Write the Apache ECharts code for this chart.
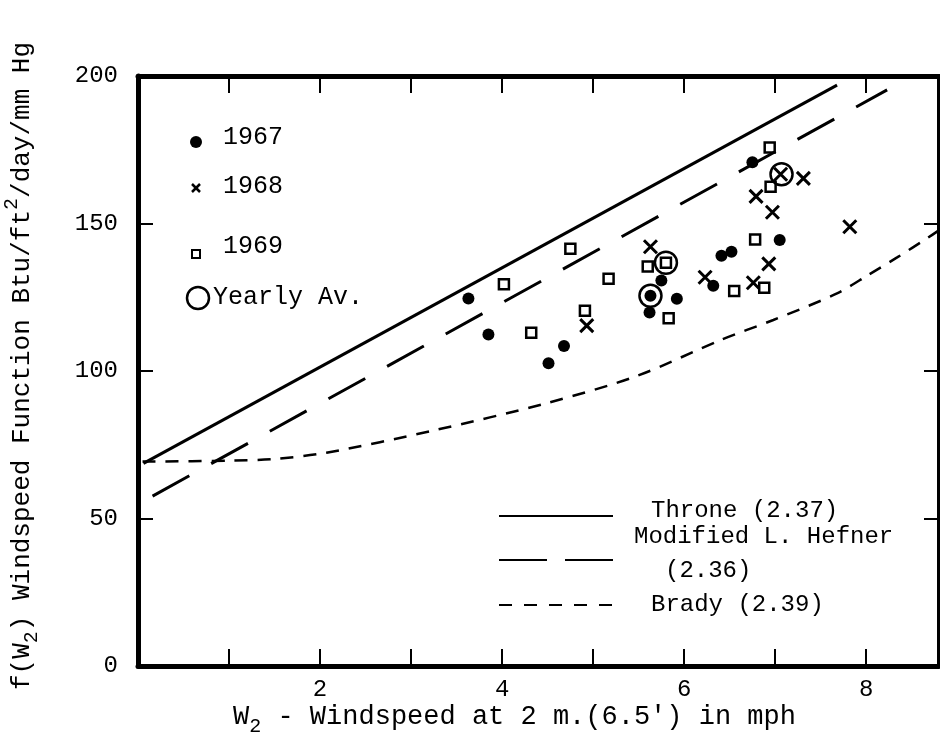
<!DOCTYPE html>
<html><head><meta charset="utf-8">
<script src="https://cdn.jsdelivr.net/npm/echarts@6/dist/echarts.min.js"></script>
<style>html,body{margin:0;padding:0;background:#fff}#c{width:940px;height:744px}</style>
</head><body><div id="c"></div>
<script>
// ---- data ----
const xTickLabels = [2, 4, 6, 8];
const yTickLabels = [0, 50, 100, 150, 200];

const pts1967 = [[3.63,124.6],[3.85,112.4],[4.51,102.6],[4.68,108.5],[5.62,119.8],[5.63,125.5],[5.75,130.7],[5.92,124.5],[6.32,128.9],[6.41,139.1],[6.52,140.4],[6.75,170.8],[7.05,144.4]];
const pts1968 = [[4.93,115.4],[5.63,142.1],[6.23,131.8],[6.76,129.9],[6.93,136.3],[6.79,159.2],[6.97,153.8],[7.06,166.7],[7.31,165.3],[7.82,148.9]];
const pts1969 = [[4.02,129.4],[4.32,113.0],[4.75,141.4],[4.91,120.4],[5.17,131.3],[5.60,135.4],[5.80,136.7],[5.83,117.9],[6.55,127.1],[6.78,144.6],[6.88,128.2],[6.95,162.5],[6.94,175.8]];
const yearlyAv = [[5.63,125.5],[5.80,136.7],[7.07,166.7]];

const throne = [[0.06,68.7],[7.68,196.9]];
const hefner = [[0.16,57.6],[8.23,195.3]];
const brady = [[0.05,69.3],[1.0,69.6],[1.5,70.2],[2.07,72.3],[3.24,79.8],[4.49,89.1],[5.48,98.3],[6.40,110.5],[6.98,117.3],[7.68,126.3],[8.02,132.5],[8.34,138.5],[8.67,145.0],[8.79,147.5]];

const FONT = 'Liberation Mono';
const chart = echarts.init(document.getElementById('c'));
const crossPath = 'path://M0,0L10,10M10,0L0,10';

const axisCommon = {
  axisLine: {show: true, onZero: false, lineStyle: {color: '#000', width: 5}},
  axisTick: {show: true, inside: true, lineStyle: {color: '#000', width: 2}},
  splitLine: {show: false}
};

chart.setOption({
  animation: false,
  backgroundColor: '#fff',
  grid: {left: 138, right: 1, top: 76, bottom: 78, outerBoundsMode: 'none'},
  xAxis: [
    Object.assign({}, axisCommon, {
      type: 'value', position: 'bottom', min: 0, max: 8.8, interval: 1,
      axisTick: {show: true, inside: true, length: 17, lineStyle: {color: '#000', width: 2}},
      axisLabel: {margin: 12, color: '#000', fontFamily: FONT, fontSize: 24,
        formatter: v => xTickLabels.includes(v) ? String(v) : ''},
      name: "{a|W}{sub|2}{a| - Windspeed at 2 m.(6.5') in mph}",
      nameLocation: 'middle', nameGap: 31, nameMoveOverlap: false,
      nameTextStyle: {fontFamily: FONT, color: '#000', padding: [0, 48, 0, 0],
        rich: {a: {fontFamily: FONT, fontSize: 27, color: '#000', lineHeight: 40},
               sub: {fontFamily: FONT, fontSize: 20, color: '#000', lineHeight: 12, verticalAlign: 'bottom'}}}
    }),
    Object.assign({}, axisCommon, {
      type: 'value', position: 'top', min: 0, max: 8.8, interval: 1,
      axisTick: {show: true, inside: true, length: 17, lineStyle: {color: '#000', width: 2}},
      axisLabel: {show: false}
    })
  ],
  yAxis: [
    Object.assign({}, axisCommon, {
      type: 'value', position: 'left', min: 0, max: 200, interval: 50,
      axisTick: {show: true, inside: true, length: 15, lineStyle: {color: '#000', width: 2}},
      axisLabel: {margin: 20, color: '#000', fontFamily: FONT, fontSize: 24,
        formatter: v => yTickLabels.includes(v) ? String(v) : ''},
      name: "{a|f(W}{sub|2}{a|) Windspeed Function Btu/ft}{sup|2}{a|/day/mm Hg}",
      nameLocation: 'middle', nameGap: 96, nameRotate: 90, nameMoveOverlap: false,
      nameTextStyle: {fontFamily: FONT, color: '#000', padding: [0, 0, 0, 10],
        rich: {a: {fontFamily: FONT, fontSize: 26, color: '#000', lineHeight: 40},
               sub: {fontFamily: FONT, fontSize: 20, color: '#000', lineHeight: 12, verticalAlign: 'bottom'},
               sup: {fontFamily: FONT, fontSize: 20, color: '#000', lineHeight: 12, verticalAlign: 'top'}}}
    }),
    Object.assign({}, axisCommon, {
      type: 'value', position: 'right', min: 0, max: 200, interval: 50,
      axisLine: {show: true, onZero: false, lineStyle: {color: '#000', width: 4}},
      axisTick: {show: true, inside: true, length: 15, lineStyle: {color: '#000', width: 2}},
      axisLabel: {show: false}
    })
  ],
  series: [
    {type: 'line', name: 'Throne (2.37)', data: throne, showSymbol: false, silent: true,
     lineStyle: {color: '#000', width: 3, type: 'solid'}},
    {type: 'line', name: 'Modified L. Hefner (2.36)', data: hefner, showSymbol: false, silent: true,
     lineStyle: {color: '#000', width: 3, type: [42, 25]}},
    {type: 'line', name: 'Brady (2.39)', data: brady, showSymbol: false, silent: true, smooth: 0.3,
     lineStyle: {color: '#000', width: 2.5, type: [13, 10]}},
    {type: 'scatter', name: '1967', data: pts1967, symbol: 'circle', symbolSize: 12,
     itemStyle: {color: '#000', opacity: 1}},
    {type: 'scatter', name: '1968', data: pts1968, symbol: crossPath, symbolSize: 13,
     itemStyle: {color: 'rgba(0,0,0,0)', borderColor: '#000', borderWidth: 3, opacity: 1}},
    {type: 'scatter', name: '1969', data: pts1969, symbol: 'rect', symbolSize: 10,
     itemStyle: {color: '#fff', borderColor: '#000', borderWidth: 2.5, opacity: 1}},
    {type: 'scatter', name: 'Yearly Av.', data: yearlyAv, symbol: 'circle', symbolSize: 22, z: 5,
     itemStyle: {color: 'rgba(0,0,0,0)', borderColor: '#000', borderWidth: 2.5, opacity: 1}}
  ],
  graphic: [
    // upper-left legend
    {type: 'circle', shape: {cx: 196, cy: 142, r: 6}, style: {fill: '#000'}},
    {type: 'text', x: 223, y: 137, style: {text: '1967', font: '25px "Liberation Mono"', fill: '#000', verticalAlign: 'middle'}},
    {type: 'line', shape: {x1: 192, y1: 184, x2: 200, y2: 192}, style: {stroke: '#000', lineWidth: 2.5}},
    {type: 'line', shape: {x1: 200, y1: 184, x2: 192, y2: 192}, style: {stroke: '#000', lineWidth: 2.5}},
    {type: 'text', x: 223, y: 186, style: {text: '1968', font: '25px "Liberation Mono"', fill: '#000', verticalAlign: 'middle'}},
    {type: 'rect', shape: {x: 192, y: 250, width: 8, height: 8}, style: {fill: '#fff', stroke: '#000', lineWidth: 2}},
    {type: 'text', x: 223, y: 246, style: {text: '1969', font: '25px "Liberation Mono"', fill: '#000', verticalAlign: 'middle'}},
    {type: 'circle', shape: {cx: 198, cy: 298, r: 11}, style: {fill: 'none', stroke: '#000', lineWidth: 2.5}},
    {type: 'text', x: 213, y: 297, style: {text: 'Yearly Av.', font: '25px "Liberation Mono"', fill: '#000', verticalAlign: 'middle'}},
    // lower-right legend
    {type: 'line', shape: {x1: 499, y1: 516, x2: 613, y2: 516}, style: {stroke: '#000', lineWidth: 2}},
    {type: 'text', x: 651, y: 511, style: {text: 'Throne (2.37)', font: '24px "Liberation Mono"', fill: '#000', verticalAlign: 'middle'}},
    {type: 'text', x: 634, y: 537, style: {text: 'Modified L. Hefner', font: '24px "Liberation Mono"', fill: '#000', verticalAlign: 'middle'}},
    {type: 'line', shape: {x1: 499, y1: 560, x2: 547, y2: 560}, style: {stroke: '#000', lineWidth: 2}},
    {type: 'line', shape: {x1: 565, y1: 560, x2: 613, y2: 560}, style: {stroke: '#000', lineWidth: 2}},
    {type: 'text', x: 665, y: 571, style: {text: '(2.36)', font: '24px "Liberation Mono"', fill: '#000', verticalAlign: 'middle'}},
    {type: 'line', shape: {x1: 499, y1: 605, x2: 613, y2: 605}, style: {stroke: '#000', lineWidth: 2, lineDash: [13, 12]}},
    {type: 'text', x: 651, y: 605, style: {text: 'Brady (2.39)', font: '24px "Liberation Mono"', fill: '#000', verticalAlign: 'middle'}}
  ]
});
</script></body></html>
